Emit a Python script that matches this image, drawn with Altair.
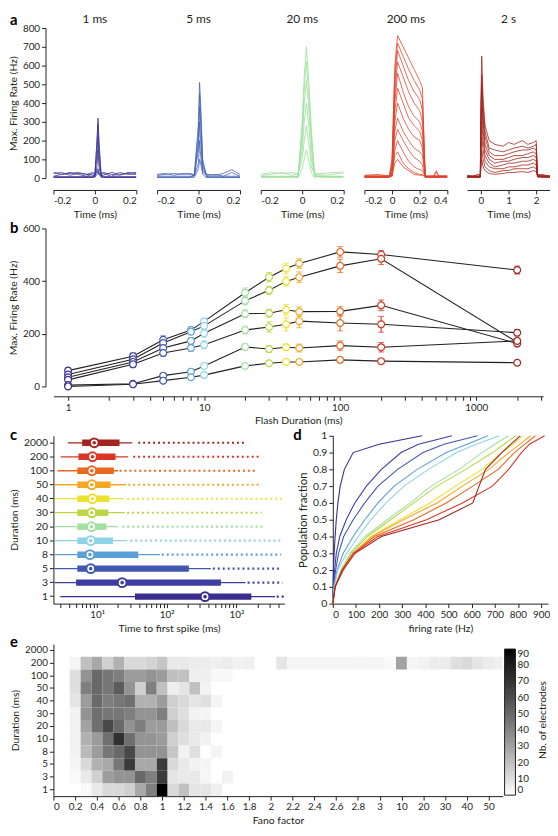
import altair as alt
import pandas as pd

FONT = "Lato"
INK = "#231f20"

# ---------------- shared categories ----------------
durations = [1, 3, 5, 8, 10, 20, 30, 40, 50, 100, 200, 2000]
dur_labels = [str(d) for d in durations]
dur_colors = ["#3a2d8f", "#3c3fa0", "#4158b2", "#5c9fd6", "#8fd4e6", "#a2e0a0",
              "#bcd641", "#eee12f", "#f5a623", "#ea671d", "#da3626", "#a3251e"]
dur_order_top = dur_labels[::-1]

# ---------------- panel a ----------------
a_titles = ["1 ms", "5 ms", "20 ms", "200 ms", "2 s"]
a_colors = ["#3b3494", "#4562b6", "#99df98", "#e2432c", "#a1231b"]
a_domains = [[-0.2, 0.2], [-0.2, 0.2], [-0.2, 0.2], [-0.2, 0.4], [-0.5, 2.5]]
a_ticks = [[-0.2, 0, 0.2], [-0.2, 0, 0.2], [-0.2, 0, 0.2], [-0.2, 0, 0.2, 0.4], [0, 1, 2]]

a1_time = [-0.2, -0.16, -0.12, -0.08, -0.04, -0.01, 0.0, 0.01, 0.015, 0.02, 0.03, 0.04, 0.08, 0.12, 0.16, 0.2]
a1_rates = [
    [5, 5, 5, 5, 5, 5, 20, 200, 320, 200, 20, 5, 5, 5, 5, 5],
    [3, 3, 3, 3, 3, 3, 15, 180, 290, 150, 15, 3, 3, 3, 3, 3],
    [8, 8, 8, 8, 8, 8, 10, 120, 220, 100, 10, 8, 8, 8, 8, 8],
    [25, 30, 15, 25, 20, 15, 10, 60, 150, 60, 10, 15, 30, 20, 25, 30],
    [10, 20, 30, 20, 10, 25, 15, 40, 50, 30, 15, 25, 10, 30, 20, 20],
    [0, 0, 0, 0, 0, 0, 5, 20, 30, 20, 5, 0, 0, 0, 0, 0],
    [30, 20, 25, 30, 20, 30, 20, 30, 40, 20, 25, 30, 20, 15, 30, 25],
]
a2_time = [-0.2, -0.16, -0.12, -0.08, -0.04, -0.02, 0.0, 0.005, 0.01, 0.02, 0.04, 0.08, 0.12, 0.16, 0.2]
a2_rates = [
    [3, 3, 3, 3, 3, 20, 300, 510, 400, 100, 5, 3, 3, 3, 3],
    [5, 5, 5, 5, 5, 15, 250, 450, 350, 80, 5, 5, 5, 5, 5],
    [10, 10, 10, 10, 10, 12, 200, 380, 300, 60, 10, 10, 10, 10, 10],
    [20, 25, 15, 25, 20, 20, 150, 300, 200, 40, 20, 15, 25, 45, 20],
    [15, 20, 25, 20, 25, 15, 80, 200, 120, 30, 15, 20, 10, 30, 10],
    [0, 0, 0, 0, 0, 5, 50, 100, 80, 20, 0, 0, 0, 0, 0],
]
a3_time = [-0.2, -0.15, -0.1, -0.05, -0.02, 0.0, 0.01, 0.02, 0.03, 0.045, 0.06, 0.1, 0.15, 0.2]
a3_rates = [
    [5, 5, 5, 5, 5, 300, 550, 700, 550, 250, 10, 5, 5, 5],
    [8, 8, 8, 8, 10, 250, 480, 620, 480, 200, 15, 8, 8, 8],
    [10, 10, 10, 10, 10, 200, 400, 520, 400, 150, 10, 10, 10, 10],
    [20, 30, 25, 30, 20, 150, 300, 400, 300, 100, 20, 25, 30, 25],
    [15, 20, 30, 15, 25, 100, 200, 280, 200, 60, 25, 15, 20, 35],
    [0, 0, 0, 0, 0, 50, 100, 150, 100, 30, 0, 0, 0, 0],
]
a4_time = [-0.2, -0.1, -0.02, 0.0, 0.02, 0.04, 0.08, 0.12, 0.16, 0.2, 0.22, 0.24, 0.3, 0.32, 0.34, 0.4]
a4_rates = [
    [10, 10, 10, 100, 600, 760, 700, 640, 580, 520, 480, 10, 10, 10, 10, 10],
    [5, 5, 5, 80, 550, 720, 650, 580, 520, 470, 420, 5, 5, 5, 5, 5],
    [10, 10, 10, 60, 500, 680, 600, 520, 460, 420, 360, 5, 10, 10, 10, 10],
    [8, 8, 8, 50, 450, 620, 540, 460, 400, 360, 300, 5, 8, 40, 8, 8],
    [10, 10, 10, 40, 400, 560, 460, 380, 330, 300, 250, 10, 10, 10, 10, 10],
    [5, 5, 5, 30, 350, 480, 400, 320, 280, 250, 200, 5, 5, 5, 5, 5],
    [8, 8, 8, 20, 300, 400, 320, 260, 220, 200, 160, 5, 8, 8, 8, 8],
    [10, 10, 10, 20, 250, 320, 250, 200, 160, 140, 120, 10, 10, 10, 10, 10],
    [5, 5, 5, 15, 200, 260, 200, 150, 110, 90, 70, 5, 5, 5, 5, 5],
    [10, 10, 10, 10, 150, 200, 140, 90, 60, 45, 40, 10, 10, 10, 10, 10],
    [5, 5, 5, 10, 120, 140, 80, 50, 30, 20, 20, 5, 5, 5, 5, 5],
    [15, 20, 10, 15, 80, 100, 60, 40, 20, 15, 15, 10, 10, 30, 10, 10],
]
a5_time = [-0.5, -0.3, -0.1, -0.02, 0.0, 0.03, 0.08, 0.15, 0.3, 0.5, 0.8, 1.0, 1.2, 1.5, 1.7, 1.9, 2.0, 2.05, 2.2, 2.5]
a5_rates = [
    [10, 10, 10, 10, 400, 650, 420, 280, 200, 180, 170, 190, 180, 200, 180, 190, 200, 20, 15, 10],
    [5, 5, 5, 5, 350, 550, 380, 250, 160, 150, 140, 150, 160, 170, 160, 170, 180, 10, 10, 5],
    [10, 10, 10, 10, 300, 500, 330, 220, 140, 120, 120, 130, 140, 150, 150, 160, 150, 15, 10, 10],
    [8, 8, 8, 8, 250, 450, 300, 180, 120, 100, 100, 110, 120, 120, 130, 140, 130, 10, 8, 8],
    [5, 5, 5, 5, 200, 380, 250, 150, 100, 80, 90, 90, 100, 110, 110, 120, 110, 10, 5, 5],
    [10, 10, 10, 10, 150, 300, 200, 120, 80, 60, 70, 80, 80, 90, 90, 100, 90, 10, 10, 10],
    [5, 5, 5, 5, 100, 220, 150, 90, 60, 50, 50, 60, 60, 70, 70, 80, 70, 5, 5, 5],
    [10, 10, 10, 10, 80, 150, 100, 60, 40, 30, 40, 40, 50, 50, 50, 60, 50, 10, 10, 10],
    [15, 10, 20, 15, 50, 100, 60, 40, 25, 20, 25, 30, 30, 35, 30, 40, 35, 15, 20, 10],
]
a_times = [a1_time, a2_time, a3_time, a4_time, a5_time]
a_rates = [a1_rates, a2_rates, a3_rates, a4_rates, a5_rates]

# ---------------- panel b ----------------
b_series = [
    [60, 115, 177, 214, 247, 356, 415, 448, 467, 511, 501, 442],
    [45, 103, 165, 208, 230, 325, 365, 399, 415, 458, 485, 168],
    [35, 93, 146, 173, 202, 276, 278, 291, 284, 285, 308, 163],
    [25, 84, 127, 146, 158, 214, 226, 236, 248, 241, 236, 204],
    [5, 10, 41, 56, 78, 150, 142, 149, 146, 155, 149, 173],
    [0, 8, 22, 35, 43, 78, 88, 93, 93, 101, 96, 90],
]
b_errors = [
    [10, 12, 15, 12, 12, 18, 18, 20, 18, 20, 15, 15],
    [8, 12, 15, 10, 15, 15, 15, 18, 20, 25, 22, 12],
    [8, 10, 15, 12, 15, 15, 15, 20, 18, 18, 20, 12],
    [5, 10, 12, 12, 15, 15, 20, 25, 25, 30, 30, 12],
    [3, 5, 8, 8, 10, 12, 12, 12, 15, 18, 18, 10],
    [3, 5, 6, 6, 8, 8, 8, 8, 8, 10, 10, 8],
]
b_xticks = [1, 2, 3, 4, 5, 6, 7, 8, 9, 10, 20, 30, 40, 50, 60, 70, 80, 90,
            100, 200, 300, 400, 500, 600, 700, 800, 900, 1000, 2000, 3000]

# ---------------- panel c ----------------
c_med = [355, 22.9, 8.1, 7.9, 8.1, 8.3, 8.4, 8.6, 8.4, 8.4, 8.6, 9.1]
c_q1 = [35, 5.0, 5.2, 5.2, 5.2, 5.2, 5.2, 5.2, 5.2, 5.2, 5.4, 6.1]
c_q3 = [1640, 600, 208, 39, 16.9, 13.6, 14.5, 15, 15.6, 17.4, 18.4, 21]
c_wlo = [2.96, 2.45, 2.45, 2.45, 2.45, 2.45, 2.45, 2.45, 2.45, 2.7, 3.0, 3.8]
c_whi = [3600, 1350, 430, 80, 27, 20, 25, 24, 26, 20, 28, 32]
c_olo = [3800, 1450, 460, 85, 30, 23, 27, 27, 28, 21, 33, 39]
c_ohi = [4800, 4600, 4500, 4400, 4400, 2600, 2300, 4500, 2300, 2000, 2100, 1350]
c_xticks = [3, 4, 5, 6, 7, 8, 9, 10, 20, 30, 40, 50, 60, 70, 80, 90,
            100, 200, 300, 400, 500, 600, 700, 800, 900, 1000, 2000, 3000, 4000]

# ---------------- panel d ----------------
d_frac = [0, 0.1, 0.2, 0.3, 0.4, 0.5, 0.6, 0.7, 0.8, 0.9, 0.95, 1.0]
d_rates = [
    [0, 1, 3, 6, 10, 15, 22, 32, 50, 88, 200, 385],
    [0, 3, 8, 15, 30, 58, 95, 145, 210, 295, 370, 515],
    [0, 4, 12, 25, 47, 88, 138, 195, 280, 390, 480, 625],
    [0, 5, 18, 45, 88, 138, 195, 265, 365, 490, 580, 670],
    [0, 6, 22, 60, 110, 165, 230, 308, 413, 535, 620, 720],
    [0, 8, 35, 75, 140, 235, 335, 425, 545, 645, 700, 760],
    [0, 9, 38, 80, 150, 250, 350, 450, 575, 690, 740, 790],
    [0, 10, 40, 88, 165, 290, 420, 530, 645, 730, 780, 820],
    [0, 10, 40, 88, 170, 305, 450, 560, 675, 760, 810, 855],
    [0, 10, 40, 89, 180, 350, 490, 605, 715, 785, 830, 875],
    [0, 10, 40, 89, 195, 405, 560, 690, 760, 815, 850, 915],
    [0, 10, 45, 96, 210, 460, 605, 632, 660, 730, 770, 810],
]

# ---------------- panel e ----------------
# counts per Fano bin index p (p<=30: Fano = p/10 ; p>30: Fano = (p-30)*5)
e_counts = {
    "2000": [],
    "200": [0, 0, 3, 20, 28, 15, 25, 12, 12, 14, 18, 7, 7, 6, 6, 5, 6, 4, 5, 0, 0, 8,
            3, 3, 3, 3, 3, 3, 3, 3, 3, 2, 30, 3, 4, 6, 6, 10, 12, 8, 6, 5],
    "100": [0, 0, 10, 35, 50, 45, 42, 32, 32, 35, 32, 20, 20, 5, 5, 2, 2],
    "50": [0, 0, 10, 42, 50, 45, 55, 35, 15, 42, 20, 5, 8, 20, 4],
    "40": [0, 0, 8, 32, 50, 42, 45, 48, 25, 25, 32, 15, 12, 8, 10, 3],
    "30": [0, 0, 4, 35, 48, 45, 45, 42, 35, 35, 42, 15, 10, 4, 3],
    "20": [0, 0, 4, 30, 48, 62, 50, 35, 42, 32, 32, 20, 12, 7, 7, 3],
    "10": [0, 0, 4, 25, 32, 48, 72, 48, 35, 35, 32, 15, 10, 7, 4],
    "8": [0, 0, 4, 22, 32, 45, 50, 62, 35, 35, 35, 18, 4, 10, 0, 3],
    "5": [0, 0, 3, 12, 25, 28, 45, 68, 28, 28, 68, 12, 7, 4, 3],
    "3": [0, 0, 2, 7, 15, 32, 35, 35, 50, 42, 68, 8, 7, 7, 3, 0, 4],
    "1": [0, 0, 0, 2, 7, 12, 12, 15, 28, 42, 90, 12, 20, 8, 8, 5],
}
e_xticks = list(range(0, 31, 2)) + [32, 34, 36, 38, 40]
e_legend_values = [0, 10, 20, 30, 40, 50, 60, 70, 80, 90]

# =====================================================================
color_scale = alt.Scale(domain=dur_labels, range=dur_colors)

A_W, A_H = 84, 152
B_W, B_H = 496, 160
C_W, D_W, CD_H = 234, 218, 170
E_W, E_H = 455, 154
LX = -44


def label(txt, dx, dy, size=15, weight="bold", align="left", angle=0):
    return alt.Chart(pd.DataFrame({"l": [txt]})).mark_text(
        font=FONT, fontSize=size, fontWeight=weight, align=align, baseline="middle",
        color="black" if weight == "bold" else INK, angle=angle
    ).encode(text="l:N", x=alt.value(dx), y=alt.value(dy))


# ---- a ----
a_panels = []
for i in range(5):
    rows = []
    for k, tr in enumerate(a_rates[i]):
        for t, r in zip(a_times[i], tr):
            rows.append({"trace": k, "t": t, "rate": r})
    df = pd.DataFrame(rows)
    yax = alt.Axis(values=list(range(0, 801, 100)), title="Max. Firing Rate (Hz)", offset=8) if i == 0 else None
    ch = alt.Chart(df).mark_line(color=a_colors[i], strokeWidth=0.8, clip=True).encode(
        x=alt.X("t:Q", scale=alt.Scale(domain=a_domains[i], nice=False, zero=False),
                axis=alt.Axis(values=a_ticks[i], title="Time (ms)", offset=12,
                              labelExpr="datum.value + ''")),
        y=alt.Y("rate:Q", scale=alt.Scale(domain=[0, 800], nice=False), axis=yax),
        detail="trace:N",
    )
    layers = [ch, label(a_titles[i], A_W / 2, -9, size=12, weight="normal", align="center")]
    if i == 0:
        layers.append(label("a", LX, -8))
    a_panels.append(alt.layer(*layers).properties(width=A_W, height=A_H))
row_a = alt.hconcat(*a_panels, spacing=19)

# ---- b ----
b_rows = []
for s, (vals, errs) in enumerate(zip(b_series, b_errors)):
    for d, lab, v, e in zip(durations, dur_labels, vals, errs):
        b_rows.append({"series": s, "dur": d, "durlab": lab, "rate": v, "lo": v - e, "hi": v + e})
b_df = pd.DataFrame(b_rows)
bx = alt.X("dur:Q", scale=alt.Scale(type="log", domain=[0.78, 3100], nice=False),
           axis=alt.Axis(values=b_xticks, title="Flash Duration (ms)", offset=10,
                         labelExpr="(datum.value==1||datum.value==10||datum.value==100||datum.value==1000) ? datum.value + '' : ''"))
by = alt.Y("rate:Q", scale=alt.Scale(domain=[0, 600], nice=False),
           axis=alt.Axis(values=[0, 200, 400, 600], title="Max. Firing Rate (Hz)", offset=8))
bcol = alt.Color("durlab:N", scale=color_scale, legend=None)
b_base = alt.Chart(b_df)
b_lines = b_base.mark_line(color=INK, strokeWidth=1.1).encode(x=bx, y=by, detail="series:N")
b_err = b_base.mark_rule(strokeWidth=1.1).encode(x=bx, y=alt.Y("lo:Q"), y2="hi:Q", color=bcol)
b_cap1 = b_base.mark_tick(orient="horizontal", size=6, thickness=1.1).encode(x=bx, y=alt.Y("lo:Q"), color=bcol)
b_cap2 = b_base.mark_tick(orient="horizontal", size=6, thickness=1.1).encode(x=bx, y=alt.Y("hi:Q"), color=bcol)
b_pts = b_base.mark_point(shape="circle", size=48, strokeWidth=1.2, filled=False, fill="white",
                          fillOpacity=1, opacity=1).encode(x=bx, y=by, color=bcol)
panel_b = alt.layer(b_lines, b_err, b_cap1, b_cap2, b_pts, label("b", LX, 0)).properties(width=B_W, height=B_H)

# ---- c ----
c_df = pd.DataFrame({"durlab": dur_labels, "med": c_med, "q1": c_q1, "q3": c_q3,
                     "wlo": c_wlo, "whi": c_whi, "olo": c_olo, "ohi": c_ohi})
cy = alt.Y("durlab:N", sort=dur_order_top, scale=alt.Scale(domain=dur_order_top),
           axis=alt.Axis(title="Duration (ms)", labelFontSize=10.5))
cxs = alt.Scale(type="log", domain=[2.36, 4900], nice=False)
cax = alt.Axis(values=c_xticks, title="Time to first spike (ms)",
               labelExpr="datum.value==10 ? '10¹' : datum.value==100 ? '10²' : datum.value==1000 ? '10³' : ''")
ccol = alt.Color("durlab:N", scale=color_scale, legend=None)
c_base = alt.Chart(c_df)
c_wh = c_base.mark_rule(strokeWidth=1.3).encode(x=alt.X("wlo:Q", scale=cxs, axis=cax), x2="whi:Q", y=cy, color=ccol)
c_out = c_base.mark_rule(strokeWidth=2.2, strokeDash=[2, 3]).encode(x=alt.X("olo:Q", scale=cxs, axis=cax), x2="ohi:Q", y=cy, color=ccol)
c_box = c_base.mark_rule(strokeWidth=6.5).encode(x=alt.X("q1:Q", scale=cxs, axis=cax), x2="q3:Q", y=cy, color=ccol)
c_m1 = c_base.mark_point(shape="circle", size=120, filled=True, opacity=1).encode(
    x=alt.X("med:Q", scale=cxs, axis=cax), y=cy, color=ccol)
c_m2 = c_base.mark_point(shape="circle", size=28, filled=False, color="white", strokeWidth=1.6, opacity=1).encode(
    x=alt.X("med:Q", scale=cxs, axis=cax), y=cy)
panel_c = alt.layer(c_wh, c_out, c_box, c_m1, c_m2, label("c", LX, -1)).properties(width=C_W, height=CD_H)

# ---- d ----
d_rows = []
for lab, rates in zip(dur_labels, d_rates):
    for f, r in zip(d_frac, rates):
        d_rows.append({"durlab": lab, "rate": r, "frac": f})
d_df = pd.DataFrame(d_rows)
d_lines = alt.Chart(d_df).mark_line(strokeWidth=1.1).encode(
    x=alt.X("rate:Q", scale=alt.Scale(domain=[0, 930], nice=False),
            axis=alt.Axis(values=list(range(0, 901, 100)), title="firing rate (Hz)")),
    y=alt.Y("frac:Q", scale=alt.Scale(domain=[0, 1], nice=False),
            axis=alt.Axis(values=[i / 10 for i in range(11)], title="Population fraction",
                          titleFontSize=11.5, labelFontSize=10.5, labelExpr="datum.value + ''")),
    color=alt.Color("durlab:N", scale=color_scale, legend=None),
    order="frac:Q",
)
panel_d = alt.layer(d_lines, label("d", -40, -1)).properties(width=D_W, height=CD_H)

row_cd = alt.hconcat(panel_c, panel_d, spacing=8)

# ---- e ----
e_rows = []
for lab, vals in e_counts.items():
    for p, v in enumerate(vals):
        if v > 0:
            e_rows.append({"durlab": lab, "p": p, "count": v})
e_df = pd.DataFrame(e_rows)
e_rect = alt.Chart(e_df).transform_calculate(
    p0="datum.p - 0.5", p1="datum.p + 0.5"
).mark_rect(clip=True).encode(
    x=alt.X("p0:Q", scale=alt.Scale(domain=[0, 41.3], nice=False, zero=False),
            axis=alt.Axis(values=e_xticks, title="Fano factor",
                          labelExpr="datum.value <= 30 ? format(datum.value/10, '.1~f') : format((datum.value-30)*5, 'd')")),
    x2="p1:Q",
    y=alt.Y("durlab:N", sort=dur_order_top, scale=alt.Scale(domain=dur_order_top, paddingInner=0, paddingOuter=0),
            axis=alt.Axis(title="Duration (ms)")),
    color=alt.Color("count:Q", scale=alt.Scale(domain=[0, 90], range=["#ffffff", "#000000"]),
                    legend=alt.Legend(title=None, orient="none", legendX=E_W + 2, legendY=5,
                                      direction="vertical", gradientLength=E_H - 6, gradientThickness=11,
                                      values=e_legend_values,
                                      gradientStrokeColor=INK, gradientStrokeWidth=1,
                                      labelFontSize=10, labelFont=FONT, labelColor=INK)),
)
panel_e = alt.layer(
    e_rect, label("e", LX, -2),
    label("Nb. of electrodes", E_W + 41, E_H / 2, size=10.5, weight="normal", align="center", angle=270),
).properties(width=E_W, height=E_H)

chart = alt.vconcat(row_a, panel_b, row_cd, panel_e, spacing=1).properties(
    padding={"left": 0, "top": 0, "right": 0, "bottom": 0}
).configure_axis(
    labelFont=FONT, titleFont=FONT, labelFontSize=10, titleFontSize=10.5, titleFontWeight="normal",
    grid=False, domainColor=INK, tickColor=INK, labelColor=INK, titleColor=INK, tickSize=4,
    titlePadding=4, labelPadding=2
).configure_view(stroke=None).configure_title(font=FONT, fontWeight="normal", color=INK)

chart.save("out.html", embed_options={"renderer": "svg", "actions": False})
